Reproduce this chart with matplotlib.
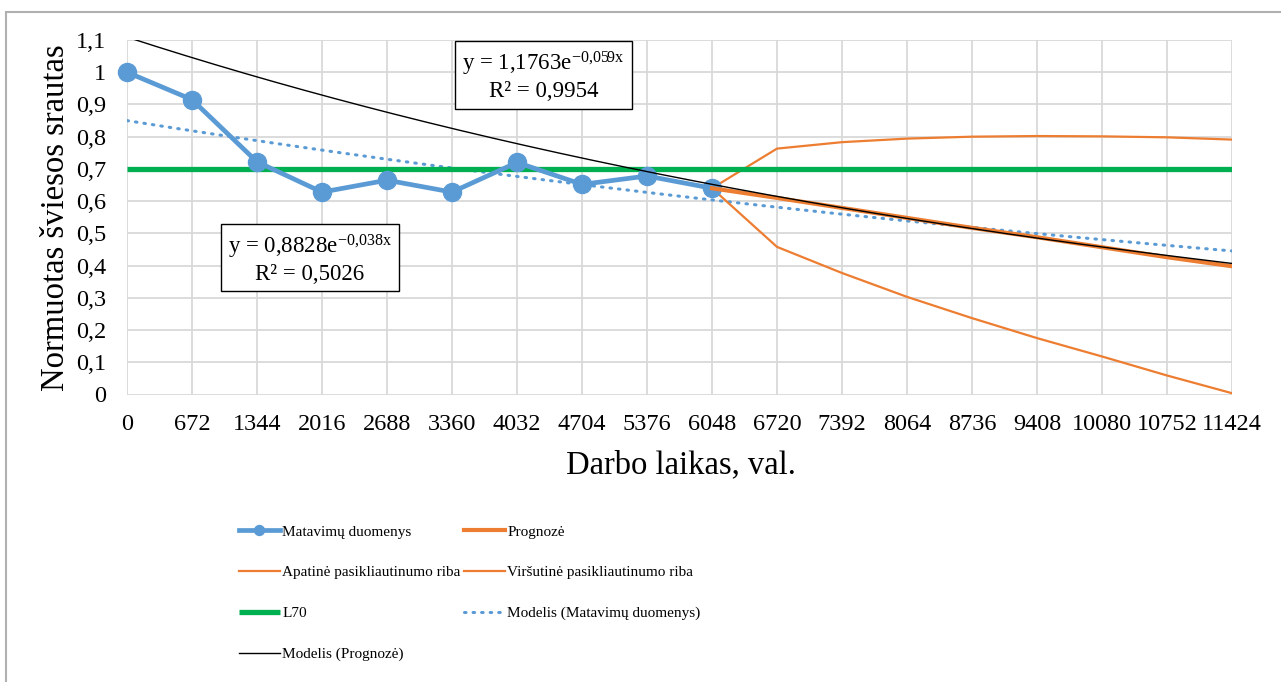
import matplotlib
matplotlib.use("Agg")
import matplotlib.pyplot as plt
import numpy as np
from matplotlib.patches import Rectangle
from matplotlib.ticker import FuncFormatter

plt.rcParams['font.family'] = ['Liberation Serif', 'DejaVu Serif']
plt.rcParams['mathtext.fontset'] = 'custom'
plt.rcParams['mathtext.rm'] = 'Liberation Serif'
plt.rcParams['mathtext.it'] = 'Liberation Serif'
plt.rcParams['mathtext.default'] = 'regular'

# darbo laikas (val.) - kategorijos
hours = [0, 672, 1344, 2016, 2688, 3360, 4032, 4704, 5376, 6048,
         6720, 7392, 8064, 8736, 9408, 10080, 10752, 11424]

# matuotas normuotas šviesos srautas
measured = [1.0, 0.915, 0.722, 0.628, 0.665, 0.628, 0.72, 0.652, 0.678, 0.64]

# prognozė ir pasikliautinumo ribos (nuo 6048 val.)
forecast = [0.64, 0.610, 0.579, 0.548, 0.517, 0.488, 0.457, 0.426, 0.398]
lower = [0.64, 0.458, 0.377, 0.303, 0.237, 0.175, 0.118, 0.059, 0.004]
upper = [0.64, 0.763, 0.783, 0.794, 0.800, 0.802, 0.801, 0.798, 0.791]

l70 = 0.7

# eksponentiniai modeliai: y = a*exp(b*x), x - kategorijos numeris
fit_meas = (0.8828, -0.038, 0.5026)
fit_prog = (1.1763, -0.059, 0.9954)

blue = '#5B9BD5'
orange = '#ED7D31'
green = '#00B050'


def lt(v):
    return ('%g' % v).replace('.', ',')


def eq_text(fit):
    a, b, r2 = fit
    exp = ('%g' % b).replace('.', '{,}')
    return 'y = %se$^{%sx}$\nR² = %s' % (lt(a), exp, lt(r2))


fig = plt.figure(figsize=(12.81, 6.82), dpi=100)
ax = fig.add_axes([127 / 1281, 1 - 394.5 / 682, 1105 / 1281, 354.5 / 682])

idx = np.arange(len(hours))
n_meas = len(measured)
idx_prog = idx[n_meas - 1:]

xs = np.linspace(0, len(hours) - 1, 300)
l_mm, = ax.plot(xs, fit_meas[0] * np.exp(fit_meas[1] * (xs + 1)), color=blue,
                lw=2.2, linestyle=(0, (0.5, 2.3)), dash_capstyle='round',
                zorder=3)
l_low, = ax.plot(idx_prog, lower, color=orange, lw=1.6, zorder=3)
l_up, = ax.plot(idx_prog, upper, color=orange, lw=1.6, zorder=3)
l_l70, = ax.plot([0, len(hours) - 1], [l70, l70], color=green, lw=3.8,
                 solid_capstyle='butt', zorder=4)
l_meas, = ax.plot(idx[:n_meas], measured, color=blue, lw=3.4, marker='o',
                  markersize=13, zorder=5, clip_on=False)
l_prog, = ax.plot(idx_prog, forecast, color=orange, lw=3.0, zorder=6)
l_mp, = ax.plot(xs, fit_prog[0] * np.exp(fit_prog[1] * (xs + 1)), color='black',
                lw=1.0, zorder=7)

ax.set_xlim(0, len(hours) - 1)
ax.set_ylim(0, 1.1)
ax.set_xticks(idx)
ax.set_xticklabels([str(h) for h in hours])
ax.set_yticks(np.round(np.arange(0, 1.11, 0.1), 1))
ax.yaxis.set_major_formatter(FuncFormatter(lambda v, p: lt(round(v, 1))))
ax.tick_params(length=0, labelsize=17.5)
ax.tick_params(axis='y', pad=15)
ax.tick_params(axis='x', pad=14)
for s in ax.spines.values():
    s.set_visible(False)
ax.grid(True, color='#d9d9d9', lw=1.3)
ax.set_axisbelow(True)

ax.set_xlabel('Darbo laikas, val.', fontsize=23.5, va='center')
ax.xaxis.set_label_coords(0.501, (394.5 - 465) / 354.5)
ax.set_ylabel('Normuotas šviesos srautas', fontsize=23.5, va='center')
ax.yaxis.set_label_coords((56 - 127) / 1105, 0.5)

box = dict(boxstyle='square,pad=0.3', fc='white', ec='black', lw=1.0)
ax.text((543.5 - 127) / 65, (394.5 - 76.5) / 321.8, eq_text(fit_prog),
        ha='center', va='center', multialignment='center', fontsize=16.5,
        bbox=box, zorder=10, linespacing=1.15)
ax.text((310 - 127) / 65, (394.5 - 259) / 321.8, eq_text(fit_meas),
        ha='center', va='center', multialignment='center', fontsize=16.5,
        bbox=box, zorder=10, linespacing=1.15)

# legenda dviem stulpeliais
leg_kw = dict(loc='upper left', frameon=False, fontsize=11, handlelength=2.68,
              handletextpad=0.15, labelspacing=1.77, borderpad=0,
              borderaxespad=0, markerscale=0.55)
leg1 = fig.legend([l_meas, l_low, l_l70, l_mp],
                  ['Matavimų duomenys', 'Apatinė pasikliautinumo riba', 'L70',
                   'Modelis (Prognozė)'],
                  bbox_to_anchor=(239 / 1281, 1 - 525 / 682), **leg_kw)
leg2 = fig.legend([l_prog, l_up, l_mm],
                  ['Prognozė', 'Viršutinė pasikliautinumo riba',
                   'Modelis (Matavimų duomenys)'],
                  bbox_to_anchor=(464 / 1281, 1 - 525 / 682), **leg_kw)

# rėmelis aplink diagramą
fig.add_artist(Rectangle((6 / 1281, -0.1), 1.2, 1 - 12 / 682 + 0.1,
                         transform=fig.transFigure, fill=False,
                         ec='#b0b0b0', lw=1.5))

fig.savefig('out.png', dpi=100)
